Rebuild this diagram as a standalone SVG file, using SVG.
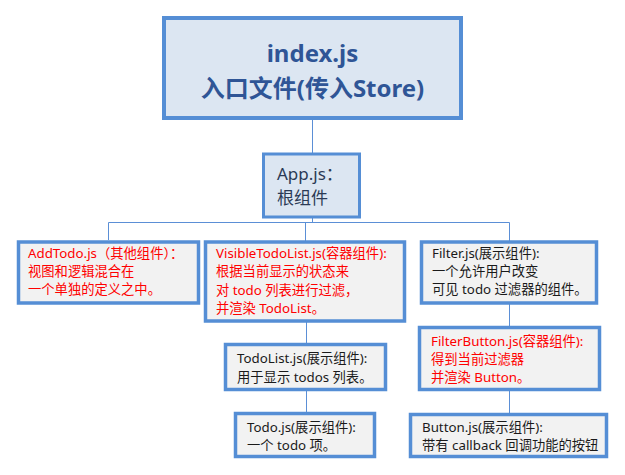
<svg xmlns="http://www.w3.org/2000/svg" width="625" height="475" viewBox="0 0 625 475">
<style>
.bg{fill:#ffffff}
.node rect{stroke:#558ed5}
.blue{fill:#dce6f2}
.gray{fill:#f2f2f2}
.conn{stroke:#5b8fd6;stroke-width:1;fill:none}
text{font-family:"Noto Sans","Noto Sans CJK SC",sans-serif}
.t{font-size:13.3px;fill:#1a1a1a}
.r{font-size:13.3px;fill:#ff0000}
.title{font-size:24px;font-weight:bold;fill:#2f5596;text-anchor:middle}
.app{font-size:17px;fill:#2b3a55}
</style>
<rect class="bg" x="0" y="0" width="625" height="475"/>
<g id="connectors">
<path class="conn" d="M312.5,120 V153"/>
<path class="conn" d="M312.5,218 V222.5"/>
<path class="conn" d="M108.5,240 V222.5 H509.5 V241"/>
<path class="conn" d="M305.5,222.5 V241"/>
<path class="conn" d="M306.5,322 V343"/>
<path class="conn" d="M306.5,391 V412"/>
<path class="conn" d="M509.5,304 V327"/>
<path class="conn" d="M509.5,391 V413"/>
</g>
<g id="index" class="node">
<rect class="blue" x="164" y="18" width="297" height="100" stroke-width="4"/>
<text class="title" x="312.5" y="62">index.js</text>
<text class="title" x="312.5" y="97">入口文件(传入Store)</text>
</g>
<g id="app" class="node">
<rect class="blue" x="263.5" y="154" width="96" height="63" stroke-width="3"/>
<text class="app" x="277" y="180">App.js：</text>
<text class="app" x="277" y="204">根组件</text>
</g>
<g id="addtodo" class="node">
<rect class="gray" x="18.5" y="242" width="180" height="61" stroke-width="3.5"/>
<text class="r" x="28" y="258">AddTodo.js（其他组件）：</text>
<text class="r" x="28" y="276">视图和逻辑混合在</text>
<text class="r" x="28" y="294">一个单独的定义之中。</text>
</g>
<g id="visibletodolist" class="node">
<rect class="gray" x="205.5" y="242" width="199" height="79" stroke-width="3.5"/>
<text class="r" x="216" y="258">VisibleTodoList.js(容器组件):</text>
<text class="r" x="216" y="276">根据当前显示的状态来</text>
<text class="r" x="216" y="295">对 todo 列表进行过滤，</text>
<text class="r" x="216" y="313">并渲染 TodoList。</text>
</g>
<g id="filter" class="node">
<rect class="gray" x="421.5" y="242" width="175" height="61" stroke-width="3.5"/>
<text class="t" x="432" y="258">Filter.js(展示组件):</text>
<text class="t" x="432" y="276">一个允许用户改变</text>
<text class="t" x="432" y="294">可见 todo 过滤器的组件。</text>
</g>
<g id="todolist" class="node">
<rect class="gray" x="225.5" y="344.5" width="160" height="45" stroke-width="3.5"/>
<text class="t" x="237" y="363">TodoList.js(展示组件):</text>
<text class="t" x="237" y="382">用于显示 todos 列表。</text>
</g>
<g id="filterbutton" class="node">
<rect class="gray" x="419.5" y="327.5" width="180" height="62" stroke-width="3.5"/>
<text class="r" x="431" y="346">FilterButton.js(容器组件):</text>
<text class="r" x="431" y="364">得到当前过滤器</text>
<text class="r" x="431" y="382">并渲染 Button。</text>
</g>
<g id="todo" class="node">
<rect class="gray" x="235.5" y="413.5" width="139" height="43" stroke-width="3.5"/>
<text class="t" x="247" y="432">Todo.js(展示组件):</text>
<text class="t" x="247" y="450">一个 todo 项。</text>
</g>
<g id="button" class="node">
<rect class="gray" x="410.5" y="414.5" width="196" height="42" stroke-width="3.5"/>
<text class="t" x="422" y="432">Button.js(展示组件):</text>
<text class="t" x="422" y="450">带有 callback 回调功能的按钮</text>
</g>
</svg>
